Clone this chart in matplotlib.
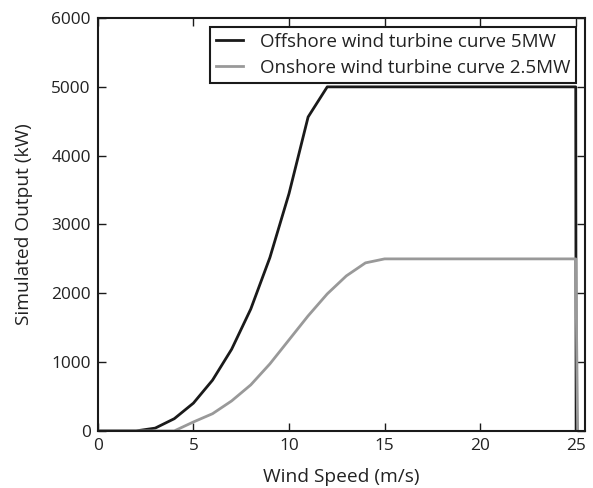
import numpy as np
import matplotlib
matplotlib.use('Agg')
import matplotlib.pyplot as plt

# power curves, kW vs wind speed m/s
ws_off = [0, 1, 2, 3, 4, 5, 6, 7, 8, 9, 10, 11, 12, 13, 14, 15, 16, 17, 18, 19, 20, 21, 22, 23, 24, 25, 25.02]
p_off = [0, 0, 0, 40.5, 177.7, 403.9, 737.6, 1187.2, 1771.1, 2518.6, 3448.4, 4562.5, 5000, 5000, 5000, 5000,
         5000, 5000, 5000, 5000, 5000, 5000, 5000, 5000, 5000, 5000, 0]

ws_on = [0, 1, 2, 3, 4, 5, 6, 7, 8, 9, 10, 11, 12, 13, 14, 15, 16, 17, 18, 19, 20, 21, 22, 23, 24, 25, 25.1]
p_on = [0, 0, 0, 0, 0, 130, 250, 436, 669, 974, 1323, 1672, 1991, 2253, 2442, 2500,
        2500, 2500, 2500, 2500, 2500, 2500, 2500, 2500, 2500, 2500, 0]

plt.rcParams['font.family'] = ['Open Sans', 'DejaVu Sans']
plt.rcParams['text.color'] = '#222222'
plt.rcParams['axes.labelcolor'] = '#222222'
plt.rcParams['xtick.direction'] = 'in'
plt.rcParams['ytick.direction'] = 'in'

fig = plt.figure(figsize=(5.93, 4.88), dpi=100)
ax = fig.add_axes([0.165, 0.117, 0.822, 0.846])

ax.plot(ws_off, p_off, color='#1a1a1a', lw=2, label='Offshore wind turbine curve 5MW')
ax.plot(ws_on, p_on, color='#999999', lw=2, label='Onshore wind turbine curve 2.5MW')

ax.set_xlim(0, 25.5)
ax.set_ylim(0, 6000)
ax.set_xticks([0, 5, 10, 15, 20, 25])
ax.set_yticks(np.arange(0, 6001, 1000))
ax.tick_params(top=True, right=True, length=6, width=1, labelsize=12.4, colors='#1a1a1a',
               labelcolor='#222222', pad=5)
for s in ax.spines.values():
    s.set_linewidth(1.5)
    s.set_color('#1a1a1a')

ax.set_xlabel('Wind Speed (m/s)', fontsize=13.8, labelpad=10)
ax.set_ylabel('Simulated Output (kW)', fontsize=13.8, labelpad=13)

leg = ax.legend(loc='upper right', fontsize=13.5, fancybox=False, framealpha=1,
                edgecolor='#1a1a1a', borderaxespad=0.5, handlelength=1.45,
                handletextpad=0.9, borderpad=0.3, labelspacing=0.42)
leg.get_frame().set_linewidth(1.5)

fig.savefig('out.png', dpi=100)
